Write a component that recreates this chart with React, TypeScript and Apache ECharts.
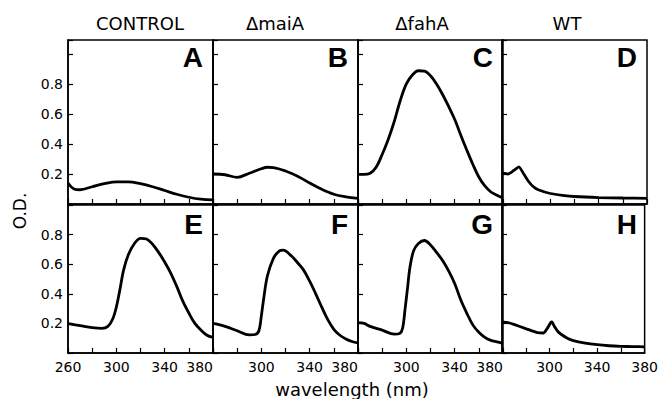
import React, { useEffect, useRef } from "react";
import * as echarts from "echarts";

// Column titles and panel letters
const columnTitles = ["CONTROL", "ΔmaiA", "ΔfahA", "WT"];
const panelLetters = ["A", "B", "C", "D", "E", "F", "G", "H"];
const yTickLabels = ["0.2", "0.4", "0.6", "0.8"];
const xTickLabels = ["260", "300", "340", "380"];

// Panel A (CONTROL, top)
const aWl = [260, 265, 270, 280, 290, 300, 310, 320, 330, 340, 350, 360, 370, 380];
const aOd = [0.14, 0.1, 0.095, 0.115, 0.135, 0.148, 0.148, 0.135, 0.115, 0.09, 0.065, 0.045, 0.032, 0.027];
// Panel B (ΔmaiA, top)
const bWl = [260, 270, 280, 290, 300, 305, 310, 320, 330, 340, 350, 360, 370, 380];
const bOd = [0.2, 0.195, 0.178, 0.205, 0.235, 0.245, 0.243, 0.22, 0.185, 0.14, 0.098, 0.065, 0.048, 0.038];
// Panel C (ΔfahA, top)
const cWl = [260, 265, 270, 275, 280, 285, 290, 295, 300, 305, 310, 315, 320, 325, 330, 335, 340, 345, 350, 355, 360, 365, 370, 375, 380];
const cOd = [0.198, 0.198, 0.205, 0.245, 0.33, 0.43, 0.55, 0.69, 0.8, 0.86, 0.888, 0.885, 0.855, 0.8, 0.73, 0.65, 0.565, 0.46, 0.36, 0.265, 0.18, 0.12, 0.08, 0.058, 0.04];
// Panel D (WT, top)
const dWl = [260, 265, 270, 274, 278, 282, 286, 290, 300, 310, 320, 340, 360, 380];
const dOd = [0.205, 0.2, 0.225, 0.248, 0.2, 0.15, 0.115, 0.095, 0.07, 0.058, 0.05, 0.043, 0.04, 0.038];
// Panel E (CONTROL, bottom)
const eWl = [260, 270, 280, 288, 293, 297, 300, 303, 306, 310, 315, 320, 325, 330, 335, 340, 345, 350, 355, 360, 365, 370, 375, 380];
const eOd = [0.198, 0.185, 0.172, 0.167, 0.18, 0.23, 0.31, 0.43, 0.56, 0.665, 0.74, 0.775, 0.77, 0.735, 0.68, 0.615, 0.54, 0.45, 0.35, 0.27, 0.2, 0.155, 0.12, 0.105];
// Panel F (ΔmaiA, bottom)
const fWl = [260, 270, 280, 290, 295, 298, 300, 302, 305, 310, 315, 318, 325, 330, 335, 340, 345, 350, 355, 360, 365, 370, 375, 380];
const fOd = [0.2, 0.18, 0.15, 0.122, 0.125, 0.15, 0.25, 0.37, 0.52, 0.64, 0.69, 0.695, 0.655, 0.61, 0.56, 0.485, 0.4, 0.31, 0.225, 0.16, 0.12, 0.095, 0.078, 0.068];
// Panel G (ΔfahA, bottom)
const gWl = [260, 265, 270, 280, 290, 295, 297, 299, 301, 303, 306, 310, 315, 320, 325, 330, 335, 340, 345, 350, 355, 360, 365, 370, 375, 380];
const gOd = [0.205, 0.2, 0.18, 0.155, 0.127, 0.135, 0.17, 0.3, 0.44, 0.58, 0.69, 0.74, 0.76, 0.73, 0.68, 0.625, 0.555, 0.47, 0.36, 0.27, 0.19, 0.14, 0.105, 0.085, 0.075, 0.065];
// Panel H (WT, bottom)
const hWl = [260, 265, 270, 280, 290, 295, 298, 301, 302, 304, 307, 310, 315, 320, 330, 340, 350, 360, 370, 380];
const hOd = [0.21, 0.205, 0.193, 0.165, 0.137, 0.135, 0.165, 0.205, 0.21, 0.18, 0.145, 0.125, 0.1, 0.084, 0.067, 0.056, 0.049, 0.045, 0.043, 0.042];

const panels = [
  [aWl, aOd], [bWl, bOd], [cWl, cOd], [dWl, dOd],
  [eWl, eOd], [fWl, fOd], [gWl, gOd], [hWl, hOd],
];

const FONT = "DejaVu Sans";

export default function App() {
  const ref = useRef<HTMLDivElement>(null);
  useEffect(() => {
    if (!ref.current) return;
    const chart = echarts.init(ref.current, null, { renderer: "svg" });
    const lefts = [68, 213, 358, 502];
    const pw = 145;
    const rows = [
      { top: 40, height: 164, max: 1.093 },
      { top: 205, height: 148, max: 1.0 },
    ];
    const grids: any[] = [];
    const xAxes: any[] = [];
    const yAxes: any[] = [];
    const series: any[] = [];
    const graphics: any[] = [];
    for (let i = 0; i < 8; i++) {
      const r = Math.floor(i / 4);
      const c = i % 4;
      const row = rows[r];
      grids.push({
        left: lefts[c], top: row.top, width: pw, height: row.height,
        show: true, borderColor: "#000", borderWidth: 1.5, backgroundColor: "transparent",
      });
      xAxes.push({
        type: "value", gridIndex: i, min: 260, max: 380, interval: 20,
        axisLine: { show: true, onZero: false, lineStyle: { color: "#000", width: 1.5 } },
        axisTick: { show: true, inside: true, length: 5, lineStyle: { color: "#000", width: 1.2 } },
        splitLine: { show: false },
        axisLabel: {
          show: r === 1,
          color: "#000", fontFamily: FONT, fontSize: 14, margin: 7,
          alignMaxLabel: c === 3 ? "center" : "right",
          formatter: (v: number) => {
            const s = String(Math.round(v));
            if (!xTickLabels.includes(s)) return "";
            if (s === "260" && c !== 0) return "";
            return s;
          },
        },
      });
      yAxes.push({
        type: "value", gridIndex: i, min: 0, max: row.max, interval: 0.2,
        axisLine: { show: true, lineStyle: { color: "#000", width: 1.5 } },
        axisTick: { show: true, inside: true, length: 5, lineStyle: { color: "#000", width: 1.2 } },
        splitLine: { show: false },
        axisLabel: {
          show: c === 0,
          color: "#000", fontFamily: FONT, fontSize: 14, margin: 5,
          formatter: (v: number) => {
            const s = v.toFixed(1);
            return yTickLabels.includes(s) ? s : "";
          },
        },
      });
      const [wl, od] = panels[i];
      series.push({
        type: "line", xAxisIndex: i, yAxisIndex: i,
        data: wl.map((w, k) => [w, od[k]]),
        showSymbol: false, smooth: c === 3 ? 0.2 : 0.35,
        lineStyle: { color: "#000", width: 2.8 },
        silent: true,
      });
      graphics.push({
        type: "text",
        x: lefts[c] + pw - 10,
        y: r === 0 ? 71 : 238,
        style: {
          text: panelLetters[i], fill: "#000", font: `bold 28px "Liberation Sans", Arial, sans-serif`,
          align: "right", verticalAlign: "bottom",
        },
      });
    }
    const titleX = [140, 275, 422, 567];
    columnTitles.forEach((t, c) => {
      graphics.push({
        type: "text", x: titleX[c], y: 23,
        style: { text: t, fill: "#000", font: `18px "${FONT}"`, align: "center", verticalAlign: "middle" },
      });
    });
    graphics.push({
      type: "text", x: 20, y: 211, rotation: Math.PI / 2,
      style: { text: "O.D.", fill: "#000", font: `17px "${FONT}"`, align: "center", verticalAlign: "middle" },
    });
    graphics.push({
      type: "text", x: 352, y: 389,
      style: { text: "wavelength (nm)", fill: "#000", font: `18px "${FONT}"`, align: "center", verticalAlign: "middle" },
    });
    chart.setOption({
      animation: false,
      backgroundColor: "#fff",
      grid: grids,
      xAxis: xAxes,
      yAxis: yAxes,
      series,
      graphic: graphics,
    });
    return () => chart.dispose();
  }, []);
  return <div ref={ref} style={{ position: "fixed", left: 0, top: 0, width: 661, height: 399 }} />;
}
